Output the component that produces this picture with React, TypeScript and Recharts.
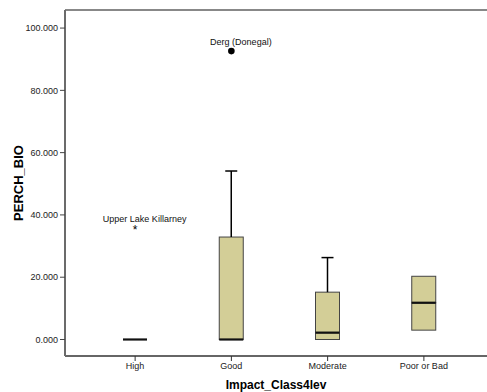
import { ComposedChart, Bar, Line, XAxis, YAxis, ReferenceLine } from "recharts";

const categories = ["High", "Good", "Moderate", "Poor or Bad"];
const mins = [0, 0, 0, 3.0];
const q1s = [0, 0, 0, 3.0];
const medians = [0, 0, 2.2, 11.8];
const q3s = [0, 32.9, 15.2, 20.3];
const maxs = [0, 54.1, 26.3, 20.3];
const outliers: (number | null)[] = [35.5, 92.6, null, null];
const outlierLabels = ["Upper Lake Killarney", "Derg (Donegal)", "", ""];
const outlierKinds = ["extreme", "outlier", "", ""];
const yTicks = [0, 20, 40, 60, 80, 100];

const BOX_FILL = "#D3CE97";
const FONT = "Arial, 'Liberation Sans', sans-serif";

const data = categories.map((name, i) => ({
  name,
  base: mins[i],
  lowWhisker: q1s[i] - mins[i],
  boxLow: medians[i] - q1s[i],
  boxHigh: q3s[i] - medians[i],
  highWhisker: maxs[i] - q3s[i],
  outlier: outliers[i],
  label: outlierLabels[i],
  kind: outlierKinds[i],
}));

const Empty = () => <g />;

const LowWhisker = (p: any) => {
  const { x, y, width, height } = p;
  if (!height) return <g />;
  const cx = x + width / 2;
  return (
    <g>
      <line x1={cx} x2={cx} y1={y} y2={y + height} stroke="#000" strokeWidth={1.5} />
      <line x1={cx - 6} x2={cx + 6} y1={y + height} y2={y + height} stroke="#000" strokeWidth={1.5} />
    </g>
  );
};

const BoxLow = (p: any) => {
  const { x, y, width, height } = p;
  if (!height) return <g />;
  return <rect x={x} y={y} width={width} height={height} fill={BOX_FILL} stroke="#444" strokeWidth={1} />;
};

const BoxHigh = (p: any) => {
  const { x, y, width, height } = p;
  return (
    <g>
      {height > 0 && <rect x={x} y={y} width={width} height={height} fill={BOX_FILL} stroke="#444" strokeWidth={1} />}
      <line x1={x} x2={x + width} y1={y + height} y2={y + height} stroke="#111" strokeWidth={2.2} />
    </g>
  );
};

const HighWhisker = (p: any) => {
  const { x, y, width, height } = p;
  if (!height) return <g />;
  const cx = x + width / 2;
  return (
    <g>
      <line x1={cx} x2={cx} y1={y} y2={y + height} stroke="#000" strokeWidth={1.5} />
      <line x1={cx - 6} x2={cx + 6} y1={y} y2={y} stroke="#000" strokeWidth={1.5} />
    </g>
  );
};

const OutlierDot = (p: any) => {
  const { cx, cy, payload, index } = p;
  if (payload.outlier == null || cy == null) return <g key={index} />;
  return (
    <g key={index}>
      {payload.kind === "extreme" ? (
        <text x={cx} y={cy + 5} textAnchor="middle" fontSize={12} fontFamily={FONT} fill="#000">
          *
        </text>
      ) : (
        <circle cx={cx} cy={cy} r={3.3} fill="#000" />
      )}
      <text x={cx + 9.5} y={cy - 6.5} textAnchor="middle" fontSize={9} fontFamily={FONT} fill="#111">
        {payload.label}
      </text>
    </g>
  );
};

export default function App() {
  return (
    <div style={{ position: "absolute", left: 0, top: 0, background: "#fff" }}>
      <ComposedChart width={487} height={392} data={data} margin={{ top: 10, right: 0, bottom: 0, left: 0 }}>
        <XAxis
          dataKey="name"
          height={36}
          padding={{ left: 22, right: 15 }}
          tick={{ fontSize: 9, fill: "#222", fontFamily: FONT }}
          tickSize={5}
          tickMargin={2}
          axisLine={{ stroke: "#333", strokeWidth: 1.5 }}
          tickLine={{ stroke: "#333" }}
          label={{
            value: "Impact_Class4lev",
            position: "insideBottom",
            offset: 3,
            style: { fontSize: 12, fontWeight: "bold", fill: "#000", fontFamily: FONT },
          }}
        />
        <YAxis
          type="number"
          width={65}
          domain={[-5.3, 105.8]}
          ticks={yTicks}
          interval={0}
          allowDataOverflow
          tickFormatter={(v: number) => v.toFixed(3)}
          tick={{ fontSize: 9, fill: "#222", fontFamily: FONT }}
          tickSize={5}
          tickMargin={2}
          axisLine={{ stroke: "#6b6b6b", strokeWidth: 2 }}
          tickLine={{ stroke: "#444" }}
          label={{
            value: "PERCH_BIO",
            angle: -90,
            position: "insideLeft",
            offset: 18,
            style: { fontSize: 13, fontWeight: "bold", fill: "#000", fontFamily: FONT, textAnchor: "middle" },
          }}
        />
        <ReferenceLine y={105.8} stroke="#888" strokeWidth={2} ifOverflow="visible" />
        <Bar dataKey="base" stackId="box" barSize={24} shape={<Empty />} isAnimationActive={false} />
        <Bar dataKey="lowWhisker" stackId="box" barSize={24} shape={<LowWhisker />} isAnimationActive={false} />
        <Bar dataKey="boxLow" stackId="box" barSize={24} shape={<BoxLow />} isAnimationActive={false} />
        <Bar dataKey="boxHigh" stackId="box" barSize={24} shape={<BoxHigh />} isAnimationActive={false} />
        <Bar dataKey="highWhisker" stackId="box" barSize={24} shape={<HighWhisker />} isAnimationActive={false} />
        <Line dataKey="outlier" stroke="none" dot={OutlierDot} activeDot={false} isAnimationActive={false} />
      </ComposedChart>
    </div>
  );
}
